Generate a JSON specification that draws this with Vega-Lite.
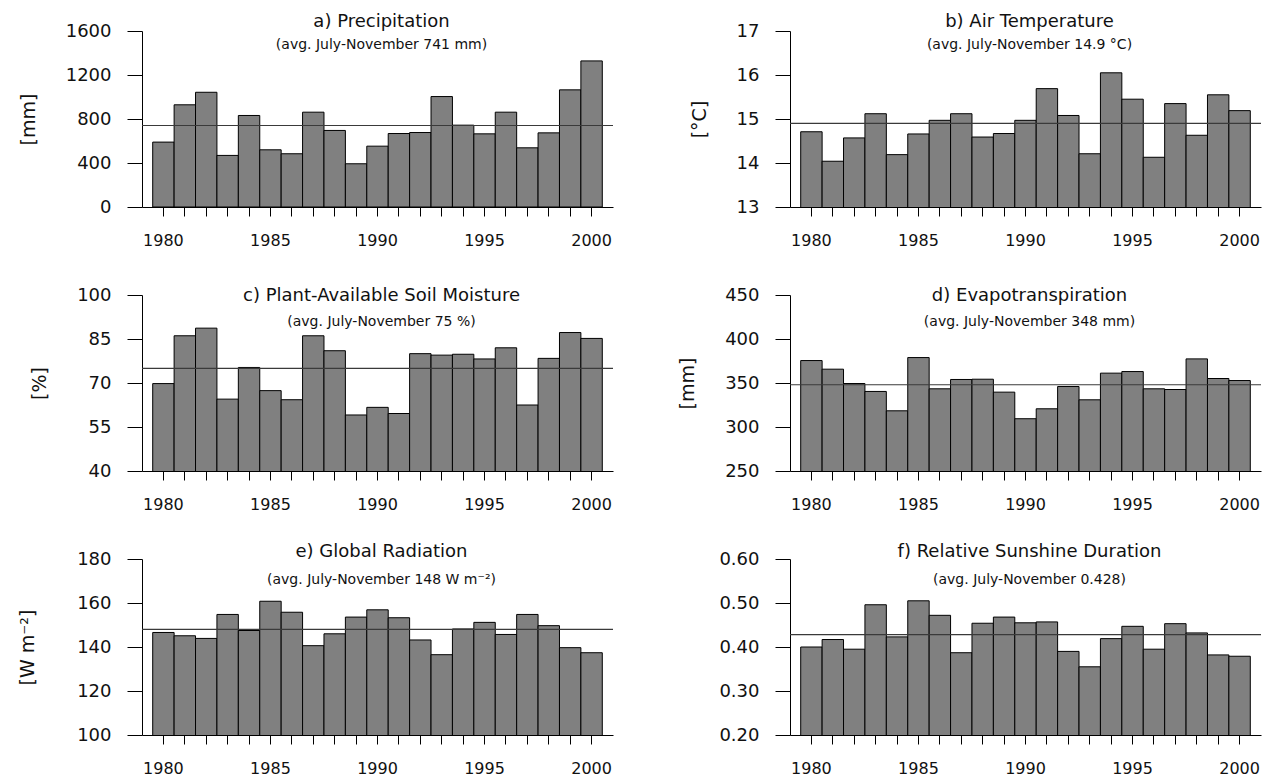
{
  "$schema": "https://vega.github.io/schema/vega-lite/v6.json",
  "autosize": {"type": "pad"},
  "padding": {"left": 18, "top": 13, "right": 5, "bottom": 5},
  "background": "white",
  "datasets": {
    "annual": [
      {"year": 1980, "precip": 590, "temp": 14.71, "soil": 69.8, "et": 375.5, "rad": 146.6, "sun": 0.400},
      {"year": 1981, "precip": 929, "temp": 14.04, "soil": 86.1, "et": 365.7, "rad": 145.1, "sun": 0.417},
      {"year": 1982, "precip": 1043, "temp": 14.57, "soil": 88.7, "et": 349.4, "rad": 143.9, "sun": 0.395},
      {"year": 1983, "precip": 469, "temp": 15.12, "soil": 64.5, "et": 340.4, "rad": 154.8, "sun": 0.496},
      {"year": 1984, "precip": 832, "temp": 14.19, "soil": 75.3, "et": 318.4, "rad": 147.5, "sun": 0.423},
      {"year": 1985, "precip": 520, "temp": 14.66, "soil": 67.4, "et": 378.9, "rad": 160.8, "sun": 0.505},
      {"year": 1986, "precip": 484, "temp": 14.97, "soil": 64.3, "et": 343.4, "rad": 155.8, "sun": 0.472},
      {"year": 1987, "precip": 862, "temp": 15.12, "soil": 86.1, "et": 354.0, "rad": 140.6, "sun": 0.387},
      {"year": 1988, "precip": 696, "temp": 14.59, "soil": 81.0, "et": 354.3, "rad": 146.0, "sun": 0.454},
      {"year": 1989, "precip": 393, "temp": 14.67, "soil": 59.1, "et": 339.6, "rad": 153.6, "sun": 0.468},
      {"year": 1990, "precip": 553, "temp": 14.97, "soil": 61.7, "et": 309.4, "rad": 156.9, "sun": 0.455},
      {"year": 1991, "precip": 668, "temp": 15.69, "soil": 59.6, "et": 320.7, "rad": 153.3, "sun": 0.457},
      {"year": 1992, "precip": 677, "temp": 15.08, "soil": 80.0, "et": 346.0, "rad": 143.2, "sun": 0.390},
      {"year": 1993, "precip": 1004, "temp": 14.21, "soil": 79.5, "et": 330.9, "rad": 136.5, "sun": 0.355},
      {"year": 1994, "precip": 744, "temp": 16.05, "soil": 79.8, "et": 361.2, "rad": 148.2, "sun": 0.419},
      {"year": 1995, "precip": 665, "temp": 15.45, "soil": 78.2, "et": 363.0, "rad": 151.2, "sun": 0.447},
      {"year": 1996, "precip": 862, "temp": 14.13, "soil": 82.0, "et": 343.4, "rad": 145.7, "sun": 0.395},
      {"year": 1997, "precip": 538, "temp": 15.35, "soil": 62.5, "et": 342.6, "rad": 154.8, "sun": 0.453},
      {"year": 1998, "precip": 674, "temp": 14.63, "soil": 78.4, "et": 377.4, "rad": 149.7, "sun": 0.432},
      {"year": 1999, "precip": 1065, "temp": 15.55, "soil": 87.2, "et": 355.1, "rad": 139.7, "sun": 0.382},
      {"year": 2000, "precip": 1328, "temp": 15.19, "soil": 85.2, "et": 352.8, "rad": 137.4, "sun": 0.379}
    ],
    "averages": [
      {"variable": "precip", "mean": 741},
      {"variable": "temp", "mean": 14.9},
      {"variable": "soil", "mean": 75},
      {"variable": "et", "mean": 348},
      {"variable": "rad", "mean": 148},
      {"variable": "sun", "mean": 0.428}
    ]
  },
  "columns": 2,
  "bounds": "flush",
  "spacing": {"row": 88, "column": 177},
  "concat": [
    {
      "width": 471, "height": 176,
      "title": {"text": "a) Precipitation", "subtitle": "(avg. July-November 741 mm)", "offset": -30, "subtitlePadding": 7},
      "layer": [
        {"data": {"name": "annual"}, "mark": {"type": "bar", "fill": "#808080", "stroke": "#000000", "strokeWidth": 1, "clip": true},
         "encoding": {
           "x": {"field": "year", "type": "ordinal", "scale": {"paddingInner": 0, "paddingOuter": 0.5}, "axis": {"labelExpr": "datum.value % 5 === 0 ? datum.label : ''"}},
           "y": {"field": "precip", "type": "quantitative", "scale": {"domain": [0, 1600], "nice": false, "zero": false}, "axis": {"values": [0, 400, 800, 1200, 1600], "format": "d", "title": "[mm]"}}}},
        {"data": {"name": "averages"}, "transform": [{"filter": "datum.variable === 'precip'"}], "mark": {"type": "rule", "color": "#3a3a3a", "strokeWidth": 1.2},
         "encoding": {"y": {"field": "mean", "type": "quantitative"}}}
      ]
    },
    {
      "width": 471, "height": 176,
      "title": {"text": "b) Air Temperature", "subtitle": "(avg. July-November 14.9 °C)", "offset": -30, "subtitlePadding": 7},
      "layer": [
        {"data": {"name": "annual"}, "mark": {"type": "bar", "fill": "#808080", "stroke": "#000000", "strokeWidth": 1, "clip": true},
         "encoding": {
           "x": {"field": "year", "type": "ordinal", "scale": {"paddingInner": 0, "paddingOuter": 0.5}, "axis": {"labelExpr": "datum.value % 5 === 0 ? datum.label : ''"}},
           "y": {"field": "temp", "type": "quantitative", "scale": {"domain": [13, 17], "nice": false, "zero": false}, "axis": {"values": [13, 14, 15, 16, 17], "format": "d", "title": "[°C]"}}}},
        {"data": {"name": "averages"}, "transform": [{"filter": "datum.variable === 'temp'"}], "mark": {"type": "rule", "color": "#3a3a3a", "strokeWidth": 1.2},
         "encoding": {"y": {"field": "mean", "type": "quantitative"}}}
      ]
    },
    {
      "width": 471, "height": 176,
      "title": {"text": "c) Plant-Available Soil Moisture", "subtitle": "(avg. July-November 75 %)", "offset": -43, "subtitlePadding": 10},
      "layer": [
        {"data": {"name": "annual"}, "mark": {"type": "bar", "fill": "#808080", "stroke": "#000000", "strokeWidth": 1, "clip": true},
         "encoding": {
           "x": {"field": "year", "type": "ordinal", "scale": {"paddingInner": 0, "paddingOuter": 0.5}, "axis": {"labelExpr": "datum.value % 5 === 0 ? datum.label : ''"}},
           "y": {"field": "soil", "type": "quantitative", "scale": {"domain": [40, 100], "nice": false, "zero": false}, "axis": {"values": [40, 55, 70, 85, 100], "format": "d", "title": "[%]"}}}},
        {"data": {"name": "averages"}, "transform": [{"filter": "datum.variable === 'soil'"}], "mark": {"type": "rule", "color": "#3a3a3a", "strokeWidth": 1.2},
         "encoding": {"y": {"field": "mean", "type": "quantitative"}}}
      ]
    },
    {
      "width": 471, "height": 176,
      "title": {"text": "d) Evapotranspiration", "subtitle": "(avg. July-November 348 mm)", "offset": -43, "subtitlePadding": 10},
      "layer": [
        {"data": {"name": "annual"}, "mark": {"type": "bar", "fill": "#808080", "stroke": "#000000", "strokeWidth": 1, "clip": true},
         "encoding": {
           "x": {"field": "year", "type": "ordinal", "scale": {"paddingInner": 0, "paddingOuter": 0.5}, "axis": {"labelExpr": "datum.value % 5 === 0 ? datum.label : ''"}},
           "y": {"field": "et", "type": "quantitative", "scale": {"domain": [250, 450], "nice": false, "zero": false}, "axis": {"values": [250, 300, 350, 400, 450], "format": "d", "title": "[mm]"}}}},
        {"data": {"name": "averages"}, "transform": [{"filter": "datum.variable === 'et'"}], "mark": {"type": "rule", "color": "#3a3a3a", "strokeWidth": 1.2},
         "encoding": {"y": {"field": "mean", "type": "quantitative"}}}
      ]
    },
    {
      "width": 471, "height": 176,
      "title": {"text": "e) Global Radiation", "subtitle": "(avg. July-November 148 W m⁻²)", "offset": -37, "subtitlePadding": 12},
      "layer": [
        {"data": {"name": "annual"}, "mark": {"type": "bar", "fill": "#808080", "stroke": "#000000", "strokeWidth": 1, "clip": true},
         "encoding": {
           "x": {"field": "year", "type": "ordinal", "scale": {"paddingInner": 0, "paddingOuter": 0.5}, "axis": {"labelExpr": "datum.value % 5 === 0 ? datum.label : ''"}},
           "y": {"field": "rad", "type": "quantitative", "scale": {"domain": [100, 180], "nice": false, "zero": false}, "axis": {"values": [100, 120, 140, 160, 180], "format": "d", "title": "[W m⁻²]", "titlePadding": 39}}}},
        {"data": {"name": "averages"}, "transform": [{"filter": "datum.variable === 'rad'"}], "mark": {"type": "rule", "color": "#3a3a3a", "strokeWidth": 1.2},
         "encoding": {"y": {"field": "mean", "type": "quantitative"}}}
      ]
    },
    {
      "width": 471, "height": 176,
      "title": {"text": "f) Relative Sunshine Duration", "subtitle": "(avg. July-November 0.428)", "offset": -37, "subtitlePadding": 12},
      "layer": [
        {"data": {"name": "annual"}, "mark": {"type": "bar", "fill": "#808080", "stroke": "#000000", "strokeWidth": 1, "clip": true},
         "encoding": {
           "x": {"field": "year", "type": "ordinal", "scale": {"paddingInner": 0, "paddingOuter": 0.5}, "axis": {"labelExpr": "datum.value % 5 === 0 ? datum.label : ''"}},
           "y": {"field": "sun", "type": "quantitative", "scale": {"domain": [0.2, 0.6], "nice": false, "zero": false}, "axis": {"values": [0.2, 0.3, 0.4, 0.5, 0.6], "format": ".2f", "title": null}}}},
        {"data": {"name": "averages"}, "transform": [{"filter": "datum.variable === 'sun'"}], "mark": {"type": "rule", "color": "#3a3a3a", "strokeWidth": 1.2},
         "encoding": {"y": {"field": "mean", "type": "quantitative"}}}
      ]
    }
  ],
  "config": {
    "view": {"stroke": null},
    "font": "DejaVu Sans",
    "axis": {
      "grid": false,
      "domainColor": "#000000",
      "domainWidth": 1,
      "tickColor": "#000000",
      "tickWidth": 1,
      "labelColor": "#111111",
      "titleColor": "#111111",
      "labelFont": "DejaVu Sans",
      "titleFont": "DejaVu Sans",
      "titleFontWeight": "normal"
    },
    "axisX": {
      "title": null,
      "tickSize": 9,
      "labelFontSize": 16,
      "labelPadding": 16,
      "labelAngle": 0,
      "labelOverlap": false,
      "bandPosition": 0.5
    },
    "axisY": {
      "tickSize": 15,
      "labelFontSize": 18,
      "labelPadding": 16,
      "titleFontSize": 19,
      "titlePadding": 27
    },
    "title": {
      "font": "DejaVu Sans",
      "fontSize": 18,
      "fontWeight": "normal",
      "color": "#111111",
      "subtitleFont": "DejaVu Sans",
      "subtitleFontSize": 14,
      "subtitleColor": "#111111",
      "anchor": "middle",
      "frame": "group",
      "dx": 4
    }
  }
}
